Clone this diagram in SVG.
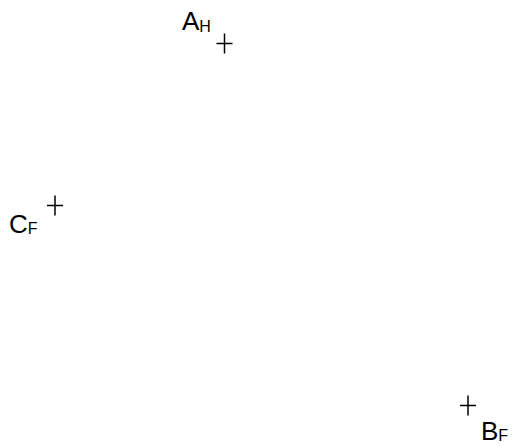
<svg xmlns="http://www.w3.org/2000/svg" width="513" height="446" viewBox="0 0 513 446">
<style>
.lbl{font-family:"Liberation Sans",Arial,sans-serif;font-size:26px;fill:#000}
.sub{font-size:16px}
.pt{stroke:#000;stroke-width:1.5;fill:none}
</style>
<rect width="513" height="446" fill="#fff"/>
<g id="connectors"></g>
<g id="A">
<path class="pt" d="M216.5 43.5H232.5M224.5 33.5V53.5"/>
<text class="lbl" x="182" y="30">A<tspan class="sub" dy="1.5">H</tspan></text>
</g>
<g id="C">
<path class="pt" d="M47 205.5H63M55 195.5V215.5"/>
<text class="lbl" x="9" y="233">C<tspan class="sub" dy="1">F</tspan></text>
</g>
<g id="B">
<path class="pt" d="M460 405.5H476M468 395.5V415.5"/>
<text class="lbl" x="481" y="439.5">B<tspan class="sub" dy="1">F</tspan></text>
</g>
</svg>
